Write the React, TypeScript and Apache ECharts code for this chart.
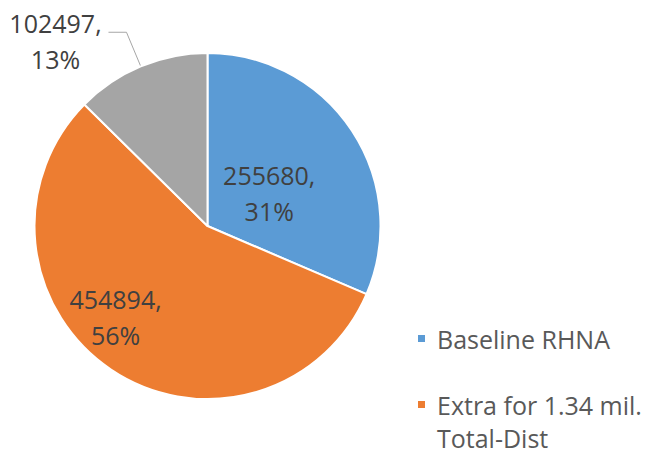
import React, { useEffect, useRef } from "react";
import * as echarts from "echarts";

const names = ["Baseline RHNA", "Extra for 1.34 mil. Total-Dist", "Other"];
const values = [255680, 454894, 102497];
const colors = ["#5B9BD5", "#ED7D31", "#A5A5A5"];
const legendLines = ["Extra for 1.34 mil.", "Total-Dist"];

export default function App() {
  const ref = useRef<HTMLDivElement>(null);
  useEffect(() => {
    if (!ref.current) return;
    const chart = echarts.init(ref.current, null, { renderer: "svg" });
    const font = "'Open Sans', sans-serif";
    const data = names.map((n, i) => {
      const item: any = { name: n, value: values[i], itemStyle: { color: colors[i] } };
      if (i === 0) item.label = { position: "inside", offset: [-13, 16] };
      if (i === 1) item.label = { position: "inside", offset: [-42, 17] };
      if (i === 2) item.label = { position: "outside" };
      return item;
    });
    const lt = { fontFamily: font, fontSize: 25, color: "#595959", lineHeight: 33, padding: [0, 0, 0, 6] };
    chart.setOption({
      animation: false,
      backgroundColor: "#ffffff",
      legend: [
        {
          data: [names[0]],
          left: 416,
          top: 322,
          padding: 0,
          itemWidth: 9,
          itemHeight: 9,
          icon: "rect",
          textStyle: lt,
        },
        {
          data: [names[1]],
          left: 416,
          top: 355,
          padding: 0,
          itemWidth: 9,
          itemHeight: 9,
          icon: "rect",
          formatter: () => `{e| }\n{t|${legendLines[0]}}\n{t|${legendLines[1]}}`,
          textStyle: {
            ...lt,
            lineHeight: 33,
            rich: {
              e: { fontFamily: font, fontSize: 25, lineHeight: 33 },
              t: { fontFamily: font, fontSize: 25, color: "#595959", lineHeight: 33 },
            },
          },
        },
      ],
      series: [
        {
          type: "pie",
          center: [207.5, 226],
          radius: [0, 173],
          startAngle: 90,
          clockwise: true,
          avoidLabelOverlap: false,
          itemStyle: { borderColor: "#ffffff", borderWidth: 2 },
          label: {
            formatter: (p: any) => `{a|${p.value},}\n{a|${Math.round(p.percent)}%}`,
            rich: {
              a: { fontFamily: font, fontSize: 25, color: "#404040", lineHeight: 36, width: 92, align: "center" },
            },
            distanceToLabelLine: 7,
          },
          labelLine: { length: 37, length2: 18, lineStyle: { color: "#A6A6A6", width: 1 } },
          labelLayout: (p: any) => (p.dataIndex === 2 ? { dy: 9 } : {}),
          emphasis: { disabled: true },
          data,
        },
      ],
    });
    return () => chart.dispose();
  }, []);
  return <div ref={ref} style={{ position: "fixed", left: 0, top: 0, width: 650, height: 453 }} />;
}
